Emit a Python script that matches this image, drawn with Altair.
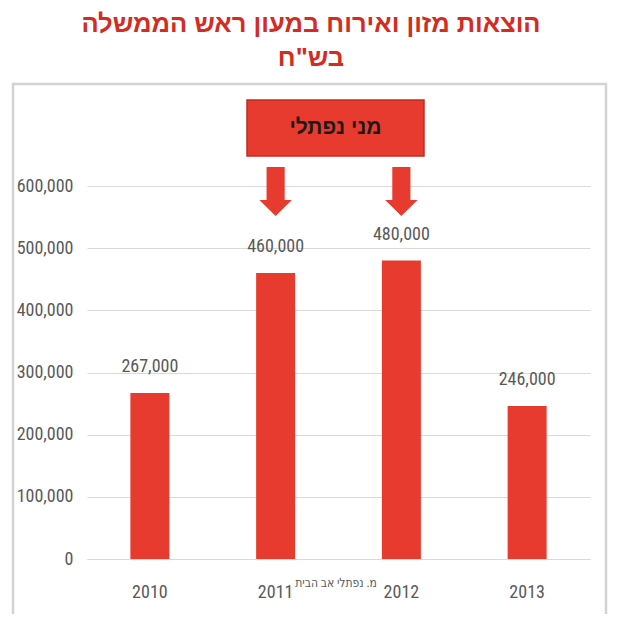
import altair as alt
import pandas as pd

# ---- data ----
years = ["2010", "2011", "2012", "2013"]
values = [267000, 460000, 480000, 246000]
title_lines = ["הוצאות מזון ואירוח במעון ראש הממשלה", 'בש"ח']
box_label = "מני נפתלי"
arrow_years = ["2011", "2012"]
credit = "מ. נפתלי אב הבית"
y_ticks = [0, 100000, 200000, 300000, 400000, 500000, 600000]

RED = "#e63b2e"
TITLE_RED = "#d42b22"
GRAY = "#595959"
NARROW = "Liberation Sans Narrow, Roboto Condensed, DejaVu Sans Condensed, Arial Narrow, sans-serif"

df = pd.DataFrame({"year": years, "value": values})
one = pd.DataFrame({"k": [0]})

W, H = 503, 373

xscale = alt.Scale(domain=years, paddingInner=0.69, paddingOuter=0.345)
yscale = alt.Scale(domain=[0, 600000], nice=False)

x_enc = alt.X("year:N", scale=xscale, sort=years, title=None,
              axis=alt.Axis(labelAngle=0, ticks=False, tickSize=0, labelPadding=24,
                            domainColor="#d9d9d9", domainWidth=1.2,
                            labelFont=NARROW, labelFontSize=18, labelColor=GRAY,
                            grid=False))
y_enc = alt.Y("value:Q", scale=yscale, title=None,
              axis=alt.Axis(values=y_ticks, format=",.0f", ticks=False, tickSize=0,
                            domain=False, labelPadding=14, grid=True,
                            gridColor="#d9d9d9", gridWidth=1.2,
                            labelFont=NARROW, labelFontSize=18, labelColor=GRAY))

frame = alt.Chart(one).mark_rect(fill=None, stroke="#d3d3d3", strokeWidth=2.5).encode(
    x=alt.value(-74), x2=alt.value(519), y=alt.value(-102), y2=alt.value(600)
)

bars = alt.Chart(df).mark_bar(color=RED, size=39).encode(x=x_enc, y=y_enc)

labels = alt.Chart(df).mark_text(
    baseline="alphabetic", dy=-21, font=NARROW, fontSize=18, color=GRAY
).encode(x=alt.X("year:N", scale=xscale, sort=years), y=alt.Y("value:Q", scale=yscale),
         text=alt.Text("value:Q", format=",.0f"))

title_df = pd.DataFrame({"line": title_lines, "ypos": [-162, -128]})
title = alt.Chart(title_df).mark_text(
    font="Liberation Sans, Arial, sans-serif", fontSize=25.5, fontWeight="bold",
    color=TITLE_RED, baseline="middle", align="center"
).encode(x=alt.value(224), y=alt.Y("ypos:Q", scale=None, axis=None), text="line:N")

box = alt.Chart(one).mark_rect(fill=RED, stroke="#c22d22", strokeWidth=1.5).encode(
    x=alt.value(160), x2=alt.value(337), y=alt.value(-86), y2=alt.value(-30)
)
box_text = alt.Chart(pd.DataFrame({"t": [box_label]})).mark_text(
    font="Liberation Sans, Arial, sans-serif", fontSize=21, fontWeight="bold",
    color="#1a1a1a", baseline="middle", align="center"
).encode(x=alt.value(248.5), y=alt.value(-58), text="t:N")

arrow_path = "M-0.37,-1L0.37,-1L0.37,0.35L0.66,0.35L0,1L-0.66,0.35L-0.37,0.35Z"
arrows = alt.Chart(pd.DataFrame({"year": arrow_years})).mark_point(
    shape=arrow_path, filled=True, fill=RED, opacity=1, strokeWidth=0, size=49 * 49
).encode(x=alt.X("year:N", scale=xscale, sort=years), y=alt.value(5.5))

credit_text = alt.Chart(pd.DataFrame({"t": [credit]})).mark_text(
    font=NARROW, fontSize=12, color=GRAY, baseline="middle", align="center"
).encode(x=alt.value(249), y=alt.value(397), text="t:N")

chart = alt.layer(frame, bars, labels, title, box, box_text, arrows, credit_text).properties(
    width=W, height=H,
    autosize=alt.AutoSizeParams(type="none"),
    padding={"left": 79, "top": 178, "right": 25, "bottom": 55},
    background="white",
).configure_view(stroke=None)

chart.save("out.html", embed_options={"renderer": "svg", "actions": False})
